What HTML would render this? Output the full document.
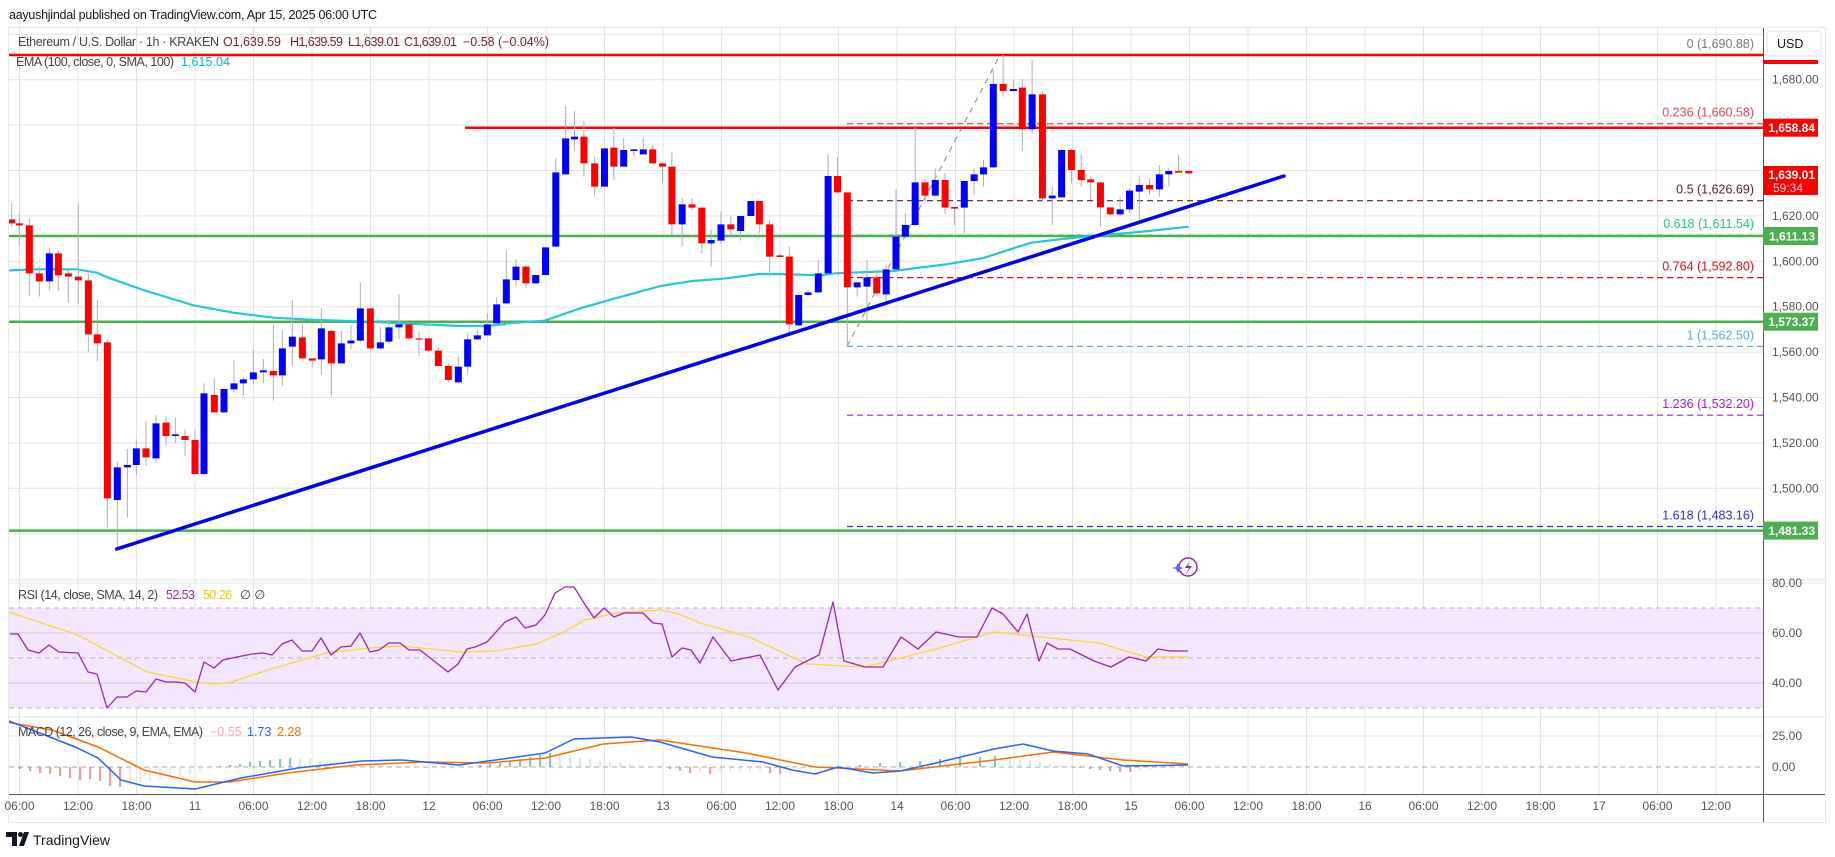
<!DOCTYPE html>
<html><head><meta charset="utf-8"><style>
html,body{margin:0;padding:0;background:#fff;}
svg{display:block;font-family:"Liberation Sans",sans-serif;}
.n{vector-effect:non-scaling-stroke;fill:none}
</style></head><body>
<svg width="1835" height="857" viewBox="0 0 1835 857" xmlns="http://www.w3.org/2000/svg">
<defs>
<clipPath id="cm"><rect x="9" y="28" width="1754" height="551"/></clipPath>
<clipPath id="cr"><rect x="9" y="583" width="1754" height="133"/></clipPath>
<clipPath id="cd"><rect x="9" y="718" width="1754" height="76"/></clipPath>
</defs>
<rect x="0" y="0" width="1835" height="857" fill="#fff"/>
<text x="9" y="19" font-size="12.5" fill="#131722" textLength="368">aayushjindal published on TradingView.com, Apr 15, 2025 06:00 UTC</text>
<rect x="8.5" y="27.5" width="1817" height="795" fill="none" stroke="#e6e8ee"/>

<!-- vertical grid -->
<path stroke="#e3e3e3" stroke-width="1" fill="none" d="M19.5 28V794M78 28V794M136.5 28V794M195 28V794M253.5 28V794M312 28V794M370.5 28V794M429 28V794M487.5 28V794M546 28V794M604.5 28V794M663 28V794M721.5 28V794M780 28V794M838.5 28V794M897 28V794M955.5 28V794M1014 28V794M1072.5 28V794M1131 28V794M1189.5 28V794M1248 28V794M1306.5 28V794M1365 28V794M1423.5 28V794M1482 28V794M1540.5 28V794M1599 28V794M1657.5 28V794M1716 28V794"/>
<!-- horizontal grid main -->
<path stroke="#e3e3e3" stroke-width="1" fill="none" d="M9 34.3H1763M9 79.7H1763M9 125.1H1763M9 170.5H1763M9 215.9H1763M9 261.3H1763M9 306.7H1763M9 352.1H1763M9 397.5H1763M9 442.9H1763M9 488.3H1763M9 533.7H1763"/>

<!-- RSI band & grid -->
<rect x="9" y="608" width="1754" height="100" fill="#f3e6fd"/>
<path stroke="#d4c8e0" fill="none" d="M9 583H1763M9 633H1763M9 683H1763"/>
<path stroke="#b8b8b8" fill="none" stroke-dasharray="5,4" d="M9 608H1763M9 658H1763M9 708H1763"/>
<path stroke="#e3e3e3" fill="none" d="M9 736H1763"/>
<path stroke="#aaa" fill="none" stroke-dasharray="5,4" d="M9 767H1763"/>

<g clip-path="url(#cm)">
<!-- fib lines -->
<g stroke-width="1.2" stroke-dasharray="6,4" fill="none">
<path stroke="#9598a1" d="M847 55H1763"/>
<path stroke="#f23645" d="M847 123.7H1763"/>
<path stroke="#5d1a35" d="M847 200.7H1763"/>
<path stroke="#22c39a" d="M847 235.1H1763"/>
<path stroke="#ff0000" d="M847 277.6H1763"/>
<path stroke="#5aaedc" d="M847 346.4H1763"/>
<path stroke="#a020d8" d="M847 415.2H1763"/>
<path stroke="#2a2ae0" d="M847 526.5H1763"/>
<path stroke="#9598a1" stroke-dasharray="6,5" d="M847 346.4L1000 55"/>
</g>
<g font-size="12.5" text-anchor="end">
<text x="1754" y="48" fill="#787b86">0 (1,690.88)</text>
<text x="1754" y="116.7" fill="#e04858">0.236 (1,660.58)</text>
<text x="1754" y="193.7" fill="#5d1a35">0.5 (1,626.69)</text>
<text x="1754" y="228.1" fill="#22c39a">0.618 (1,611.54)</text>
<text x="1754" y="270.6" fill="#e01020">0.764 (1,592.80)</text>
<text x="1754" y="339.4" fill="#5aaedc">1 (1,562.50)</text>
<text x="1754" y="408.2" fill="#a020d8">1.236 (1,532.20)</text>
<text x="1754" y="519.5" fill="#3030d0">1.618 (1,483.16)</text>
</g>
<!-- horizontal levels -->
<g stroke-width="2.5" fill="none">
<path stroke="#ff0000" d="M9 55H1763M465 127.7H1763"/>
<path stroke="#4caf50" d="M9 236H1763M9 321.7H1763M9 530.6H1763"/>
</g>

<!-- left segment candles (zoom coords /3) -->
<g transform="translate(0,150) scale(0.333333)">
<path class="n" stroke="#26c6da" stroke-width="2.2" d="M0 362L110 358L230 358L290 368L330 385L430 420L580 466L700 488L820 503L950 510L1110 515L1250 522L1380 528L1460 528L1518 522"/>
<path class="n" stroke="#b0b0b0" stroke-width="1" d="M35 160V230M58 185V285M88 205V437M118 350V440M148 293V422M175 303V422M205 360V458M235 160V462M265 370V605M292 450V635M322 568V1133M352 935V1200M382 897V1103M409 868V975M438 813V947M468 795V940M498 797V887M526 803V880M555 837V917M585 840V975M612 700V975M643 685V788M672 720V788M702 630V728M730 680V737M760 600V700M790 627V700M820 525V752M847 543V707M877 450V647M907 507V627M937 625V650M964 473V675M994 540V740M1024 543V638M1053 525V598M1081 397V580M1111 475V600M1141 530V598M1167 510V580M1197 432V568M1227 522V570M1257 545V617M1285 585V605M1315 592V650M1345 640V697M1375 620V697M1403 550V670M1432 540V570M1462 490V557M1490 442V525M1519 303V463M1548 327V410"/>
<path class="n" stroke="#ff0000" stroke-width="7" d="M35 208V220M58 220V226M88 226V370M118 370V394M175 310V376M205 370V380M235 380V391M265 391V553M292 553V580M322 577V1045M438 895V922M498 818V858M555 858V870M585 870V972M643 735V787M820 663V676M907 562V625M937 625V632M994 543V640M1111 475V595M1227 523V565M1257 565V569M1285 565V602M1315 602V648M1345 648V690"/>
<path class="n" stroke="#0000ff" stroke-width="7" d="M148 394V310M352 1050V952M382 952V945M409 945V895M468 925V820M526 858V853M612 972V730M672 787V717M702 718V700M730 700V688M760 688V667M790 667V661M847 676V595M877 590V560M964 628V535M1024 640V580M1053 580V572M1081 572V475M1141 595V577M1167 575V532M1197 532V523M1375 697V650M1403 650V568M1432 568V556M1462 556V523M1490 520V463M1519 460V388M1548 390V350"/>
</g>
<!-- right segment candles -->
<g transform="translate(500,50) scale(0.446429,0.333333)">
<path class="n" stroke="#26c6da" stroke-width="2.2" d="M14 820L100 812L180 775L250 748L360 708L430 693L500 686L580 672L620 672L720 676L750 670L880 663L1000 643L1080 625L1190 578L1260 567L1350 555L1440 545L1543 530"/>
<path class="n" stroke="#b0b0b0" stroke-width="1" d="M58 645V712M80 675V700M102 590V676M125 325V590M147 168V373M167 183V300M188 213V380M212 320V440M234 295V410M255 233V390M277 263V350M300 298V320M321 262V313M342 285V340M364 338V400M385 305V555M408 445V590M430 445V480M452 473V610M473 540V650M495 485V580M517 500V555M539 498V572M562 453V498M581 453V550M604 510V680M627 612V620M648 590V850M669 727V830M690 720V740M713 630V730M735 313V670M756 320V430M778 427V890M800 697V740M822 630V812M844 660V740M865 645V755M887 418V662M908 490V565M930 232V530M952 385V455M975 355V440M997 368V492M1018 470V525M1040 393V550M1062 355V435M1083 330V410M1105 60V355M1127 15V140M1150 90V125M1170 87V303M1192 30V250M1215 125V455M1237 410V525M1258 300V442M1280 298V400M1302 312V410M1323 380V450M1345 397V530M1367 472V500M1389 440V500M1410 415V490M1432 380V520M1455 385V435M1477 345V440M1498 355V410M1520 315V366M1543 363V372"/>
<path class="n" stroke="#ff0000" stroke-width="7" d="M58 650V700M188 260V340M212 340V410M255 293V350M342 298V340M364 340V350M385 350V523M430 463V473M452 473V580M517 523V538M581 453V523M604 523V620M627 616V621M648 620V823M756 378V427M778 427V712M844 682V730M952 397V437M997 390V473M1018 471V476M1127 102V123M1170 113V238M1215 133V445M1280 300V360M1302 360V390M1323 388V397M1345 397V472M1367 472V493M1455 405V418M1520 363V368M1543 363V370"/>
<path class="n" stroke="#0000ff" stroke-width="7" d="M80 700V675M102 675V592M125 590V367M147 373V265M167 268V260M234 410V295M277 350V300M300 303V298M321 313V298M408 523V463M473 580V570M495 572V523M539 543V498M562 498V453M669 826V735M690 735V727M713 727V670M735 670V378M800 712V697M822 710V682M865 733V658M887 658V560M908 560V525M930 525V397M975 437V390M1040 473V393M1062 393V373M1083 373V352M1105 352V102M1150 123V117M1192 238V133M1237 445V437M1258 442V300M1389 493V478M1410 478V422M1432 425V405M1477 418V373M1498 373V363"/>
</g>
<!-- trend line -->
<path d="M116.7 549L1284 176" stroke="#0000ee" stroke-width="3.5" stroke-linecap="round" fill="none"/>
</g>

<!-- RSI -->
<g clip-path="url(#cr)" fill="none" stroke-linejoin="round">
<polyline stroke="#fdd835" stroke-width="1.3" points="9,612 78,635 147,672 196,682 214,684 232,682 268,670 326,653 370,648 402,646 460,652 496,651 536,644 562,633 585,620 616,613 661,610 679,614 700,623 749,637 807,664 865,667 936,649 994,632 1041,637 1099,643 1146,657 1188,657"/>
<polyline stroke="#9c27b0" stroke-width="1.3" points="10,634 18,634 28,650 39,653 49,645 59,652 78,653 88,672 97,674 107,708 117,697 127,697 136,691 146,692 156,679 166,682 176,682 185,683 195,692 204,662 214,668 223,660 237,657 252,654 263,653 272,655 282,644 292,640 302,651 312,651 321,638 331,655 341,647 351,646 360,633 370,652 379,650 389,643 400,643 409,650 420,650 448,672 458,664 467,649 475,647 487,642 496,632 505,622 516,617 525,628 536,625 545,615 555,593 565,587 574,587 584,603 594,618 604,608 614,617 624,613 643,613 653,623 662,624 672,657 682,648 691,650 700,663 713,637 731,661 760,655 778,690 795,667 819,655 833,602 844,661 865,667 883,667 901,637 918,649 936,632 959,637 977,637 992,608 1003,614 1018,632 1027,614 1039,661 1047,643 1058,649 1070,649 1094,661 1111,667 1129,657 1146,661 1158,649 1170,651 1188,651"/>
</g>

<!-- MACD -->
<g clip-path="url(#cd)" fill="none">
<path stroke="#ff5252" stroke-width="1.2" d="M20 767v2M30 767v4M40 767v6M50 767v7M60 767v9M70 767v11M80 767v13M90 767v12M100 767v14M110 767v19M120 767v20M670 767v2M680 767v4M690 767v6M710 767v7M770 767v6M780 767v7M1080 767v1M1090 767v2M1100 767v3M1110 767v4M1120 767v5M1130 767v5"/>
<path stroke="#ffcdd2" stroke-width="1.2" d="M130 767v18M140 767v16M150 767v14M160 767v12M170 767v11M180 767v9M190 767v7M200 767v4M210 767v2M430 767v1M440 767v2M450 767v2M460 767v1M700 767v5M720 767v5M730 767v4M740 767v4M750 767v5M760 767v4M790 767v6M800 767v5M810 767v4M1140 767v4M1150 767v3M1160 767v2M1170 767v2M1180 767v1"/>
<path stroke="#26a69a" stroke-width="1.2" d="M220 767v-1M230 767v-2M240 767v-3M250 767v-5M260 767v-6M270 767v-7M280 767v-8M290 767v-9M480 767v-2M490 767v-3M500 767v-4M510 767v-6M520 767v-8M530 767v-10M540 767v-12M550 767v-14M860 767v-2M880 767v-4M900 767v-5M920 767v-6M940 767v-8M960 767v-9M980 767v-10M995 767v-11"/>
<path stroke="#b2dfdb" stroke-width="1.2" d="M300 767v-8M310 767v-8M320 767v-6M330 767v-5M340 767v-4M350 767v-3M360 767v-2M370 767v-2M380 767v-1M560 767v-13M570 767v-11M580 767v-9M590 767v-8M600 767v-6M610 767v-5M620 767v-4M630 767v-3M640 767v-2M650 767v-1M1010 767v-9M1020 767v-7M1030 767v-6M1040 767v-5M1050 767v-3M1060 767v-2M1070 767v-1"/>
<polyline stroke="#ff6d00" stroke-width="1.5" points="0,721 52,730 98,747 144,770 195,782 230,782 287,773 356,765 425,762 488,763 545,758 603,744 660,740 746,753 815,767 900,771 994,760 1053,752 1123,760 1188,764"/>
<polyline stroke="#2962ff" stroke-width="1.5" points="9,721 75,747 98,758 121,780 144,786 195,789 241,778 298,768 362,761 402,760 459,765 517,757 545,753 574,739 631,737 660,742 712,757 763,762 792,770 815,774 838,767 873,773 900,771 936,763 994,749 1023,744 1053,751 1088,754 1123,766 1188,765"/>
</g>

<!-- separators & axes -->
<path stroke="#e0e3eb" fill="none" d="M9 580H1825M9 583H1825M9 717H1825"/>
<path stroke="#555" fill="none" d="M9 794.5H1825M1763.5 28V822"/>

<g font-size="12" fill="#555">
<text x="1772" y="83.7">1,680.00</text>
<text x="1772" y="219.9">1,620.00</text>
<text x="1772" y="265.3">1,600.00</text>
<text x="1772" y="310.7">1,580.00</text>
<text x="1772" y="356.1">1,560.00</text>
<text x="1772" y="401.5">1,540.00</text>
<text x="1772" y="446.9">1,520.00</text>
<text x="1772" y="492.3">1,500.00</text>
<text x="1772" y="587">80.00</text>
<text x="1772" y="637">60.00</text>
<text x="1772" y="687">40.00</text>
<text x="1772" y="740">25.00</text>
<text x="1772" y="771">0.00</text>
</g>
<g font-size="12" fill="#555" text-anchor="middle">
<text x="19.5" y="810">06:00</text><text x="78" y="810">12:00</text><text x="136.5" y="810">18:00</text><text x="195" y="810">11</text>
<text x="253.5" y="810">06:00</text><text x="312" y="810">12:00</text><text x="370.5" y="810">18:00</text><text x="429" y="810">12</text>
<text x="487.5" y="810">06:00</text><text x="546" y="810">12:00</text><text x="604.5" y="810">18:00</text><text x="663" y="810">13</text>
<text x="721.5" y="810">06:00</text><text x="780" y="810">12:00</text><text x="838.5" y="810">18:00</text><text x="897" y="810">14</text>
<text x="955.5" y="810">06:00</text><text x="1014" y="810">12:00</text><text x="1072.5" y="810">18:00</text><text x="1131" y="810">15</text>
<text x="1189.5" y="810">06:00</text><text x="1248" y="810">12:00</text><text x="1306.5" y="810">18:00</text><text x="1365" y="810">16</text>
<text x="1423.5" y="810">06:00</text><text x="1482" y="810">12:00</text><text x="1540.5" y="810">18:00</text><text x="1599" y="810">17</text>
<text x="1657.5" y="810">06:00</text><text x="1716" y="810">12:00</text>
</g>

<!-- badges -->
<g font-size="12" font-weight="bold" fill="#fff" text-anchor="end">
<rect x="1763" y="118.7" width="55" height="18" fill="#ff0000"/><text x="1815" y="132.2">1,658.84</text>
<rect x="1763" y="166" width="55" height="29" fill="#ff0000"/><text x="1815" y="179">1,639.01</text>
<text x="1803" y="192" font-weight="normal" fill="#ffd0d0">59:34</text>
<rect x="1763" y="227" width="55" height="18" fill="#4caf50"/><text x="1815" y="240.5">1,611.13</text>
<rect x="1763" y="312.7" width="55" height="18" fill="#4caf50"/><text x="1815" y="326.2">1,573.37</text>
<rect x="1763" y="521.6" width="55" height="18" fill="#4caf50"/><text x="1815" y="535.1">1,481.33</text>
</g>

<!-- legends -->
<g font-size="12.5">
<text x="18" y="46" fill="#444" textLength="201">Ethereum / U.S. Dollar · 1h · KRAKEN</text>
<text x="223" y="46" fill="#7a1f1f" textLength="58">O1,639.59</text>
<text x="290" y="46" fill="#7a1f1f" textLength="53">H1,639.59</text>
<text x="348" y="46" fill="#7a1f1f" textLength="52">L1,639.01</text>
<text x="404" y="46" fill="#7a1f1f" textLength="53">C1,639.01</text>
<text x="463" y="46" fill="#7a1f1f" textLength="86">−0.58 (−0.04%)</text>
<text x="16" y="66" fill="#444" textLength="158">EMA (100, close, 0, SMA, 100)</text>
<text x="181" y="66" fill="#00bcd4" textLength="49">1,615.04</text>
<text x="18" y="599" fill="#444" textLength="140">RSI (14, close, SMA, 14, 2)</text>
<text x="166" y="599" fill="#9c27b0" textLength="29">52.53</text>
<text x="203" y="599" fill="#f5c518" textLength="29">50.26</text>
<text x="240" y="599" fill="#444">∅  ∅</text>
<text x="18" y="736" fill="#444" textLength="185">MACD (12, 26, close, 9, EMA, EMA)</text>
<text x="210" y="736" fill="#f7a5b0">−0.55</text>
<text x="247" y="736" fill="#2962ff">1.73</text>
<text x="277" y="736" fill="#ff6d00">2.28</text>
</g>
<!-- lightning icon -->
<circle cx="1188" cy="567" r="9" fill="#fff" stroke="#9c27b0" stroke-width="1.5"/>
<path d="M1190 561 L1185 568 L1189 568 L1186 574 L1192 566 L1188 566 Z" fill="#9c27b0"/>
<path d="M1178 563 L1180 567 L1184 568 L1180 569 L1178 573 L1176 569 L1172 568 L1176 567 Z" fill="#6a5cff"/>
<!-- USD box -->
<rect x="1767" y="31" width="54" height="25" rx="3" fill="#fff" stroke="#e0e3eb"/>
<text x="1777" y="48" font-size="12.5" fill="#131722">USD</text>
<rect x="1763" y="60" width="55" height="4" fill="#ff0000"/>
<!-- logo -->
<path d="M6 832 H17 V846 H12 V837 H6 Z" fill="#131722"/>
<circle cx="20.5" cy="834.5" r="2.5" fill="#131722"/>
<path d="M19 846 L24 832 H29 L24 846 Z" fill="#131722"/>
<text x="33" y="845" font-size="14" fill="#131722">TradingView</text>
</svg>
</body></html>
